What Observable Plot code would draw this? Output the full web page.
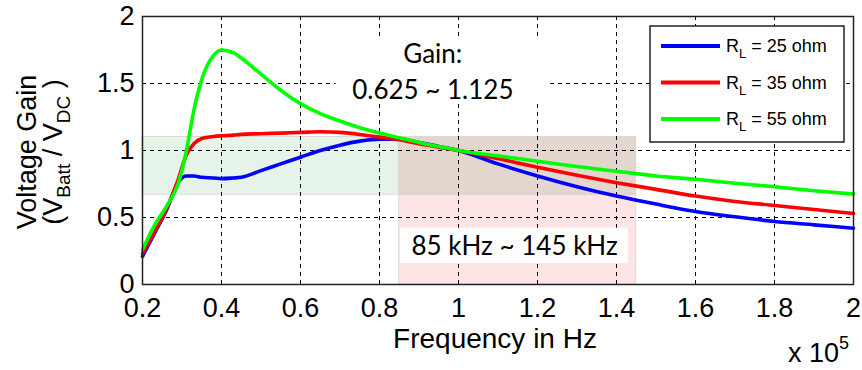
<!DOCTYPE html>
<html>
<head>
<meta charset="utf-8">
<script src="https://cdn.jsdelivr.net/npm/d3@7"></script>
<script src="https://cdn.jsdelivr.net/npm/@observablehq/plot@0.6"></script>
<style>
  html, body { margin: 0; padding: 0; background: #fff; }
  #chart { width: 862px; height: 370px; }
</style>
</head>
<body>
<div id="chart"></div>
<script>
// ---- data ----
const freq = [0.2, 0.23, 0.26, 0.29, 0.31, 0.33, 0.35, 0.38, 0.4, 0.43, 0.45, 0.5, 0.55, 0.6, 0.65, 0.7, 0.75, 0.8, 0.85, 0.9, 0.95, 1.0, 1.1, 1.2, 1.3, 1.4, 1.5, 1.6, 1.7, 1.8, 1.9, 2.0];
const gain25 = [0.21, 0.38, 0.55, 0.76, 0.81, 0.81, 0.80, 0.795, 0.79, 0.795, 0.80, 0.85, 0.90, 0.95, 1.00, 1.04, 1.07, 1.085, 1.085, 1.06, 1.03, 1.0, 0.90, 0.81, 0.73, 0.66, 0.60, 0.545, 0.505, 0.47, 0.445, 0.42];
const gain35 = [0.23, 0.39, 0.56, 0.78, 0.96, 1.05, 1.09, 1.105, 1.11, 1.115, 1.12, 1.125, 1.13, 1.135, 1.14, 1.135, 1.12, 1.10, 1.08, 1.05, 1.025, 1.0, 0.94, 0.875, 0.815, 0.76, 0.71, 0.66, 0.62, 0.59, 0.56, 0.53];
const gain55 = [0.26, 0.44, 0.58, 0.75, 0.98, 1.30, 1.53, 1.71, 1.75, 1.73, 1.69, 1.57, 1.45, 1.35, 1.275, 1.22, 1.17, 1.13, 1.095, 1.06, 1.03, 1.0, 0.96, 0.92, 0.88, 0.845, 0.81, 0.785, 0.755, 0.73, 0.70, 0.675];
const seriesNames = ["25 ohm", "35 ohm", "55 ohm"];
const seriesColors = ["#0000ff", "#ff0000", "#00ff00"];

const xTicks = [0.2, 0.4, 0.6, 0.8, 1.0, 1.2, 1.4, 1.6, 1.8, 2.0];
const xTickLabels = ["0.2", "0.4", "0.6", "0.8", "1", "1.2", "1.4", "1.6", "1.8", "2"];
const yTicks = [0, 0.5, 1, 1.5, 2];
const yTickLabels = ["0", "0.5", "1", "1.5", "2"];

const freqBand = [0.85, 1.45];   // 85 kHz ~ 145 kHz (x 10^5 Hz)
const gainBand = [0.67, 1.10];   // gain window as drawn
const gainText = ["Gain:", "0.625 ~ 1.125"];
const bandText = "85 kHz ~ 145 kHz";

// ---- build tables ----
const gains = [gain25, gain35, gain55];
const curves = seriesNames.flatMap((s, k) => freq.map((f, i) => ({series: s, f, g: gains[k][i]})));
const xLab = new Map(xTicks.map((t, i) => [t, xTickLabels[i]]));
const yLab = new Map(yTicks.map((t, i) => [t, yTickLabels[i]]));

const shades = [
  {x1: xTicks[0], x2: freqBand[0], y1: gainBand[0], y2: gainBand[1], fill: "#e6f3e8"},
  {x1: freqBand[0], x2: freqBand[1], y1: yTicks[0], y2: gainBand[0], fill: "#fde5e5"},
  {x1: freqBand[0], x2: freqBand[1], y1: gainBand[0], y2: gainBand[1], fill: "#e3d6ce"}
];
const whiteBoxes = [
  {x1: 0.69, x2: 1.225, y1: 1.35, y2: 1.84},
  {x1: 0.853, x2: 1.43, y1: 0.157, y2: 0.42}
];
const notes = [
  {x: 0.935, y: 1.715, text: gainText[0]},
  {x: 0.935, y: 1.445, text: gainText[1]},
  {x: 1.142, y: 0.285, text: bandText}
];

const font = "'Liberation Sans', Arial, Helvetica, sans-serif";

const svg = Plot.plot({
  width: 862,
  height: 370,
  marginLeft: 142,
  marginRight: 9,
  marginTop: 16,
  marginBottom: 86,
  x: {domain: [0.2, 2]},
  y: {domain: [0, 2]},
  color: {domain: seriesNames, range: seriesColors},
  style: {fontFamily: font, fontSize: "27px", color: "#000", background: "#fff", overflow: "visible"},
  marks: [
    Plot.rect(shades, {x1: "x1", x2: "x2", y1: "y1", y2: "y2", fill: "fill", stroke: "#d9d2cc", strokeWidth: 0.8}),
    Plot.ruleX(xTicks.slice(1, -1), {stroke: "#000", strokeWidth: 1, strokeDasharray: "4,4"}),
    Plot.ruleY(yTicks.slice(1, -1), {stroke: "#000", strokeWidth: 1, strokeDasharray: "4,4"}),
    Plot.rect(whiteBoxes, {x1: "x1", x2: "x2", y1: "y1", y2: "y2", fill: "#fff"}),
    Plot.text(notes, {x: "x", y: "y", text: "text", fontFamily: "Lato, 'Open Sans', sans-serif", fontSize: 26, fill: "#000"}),
    Plot.line(curves, {x: "f", y: "g", z: "series", stroke: "series", strokeWidth: 3.6, curve: "monotone-x"}),
    Plot.frame({stroke: "#222", strokeWidth: 1.5}),
    Plot.axisX(xTicks, {tickSize: 0, tickPadding: 13, tickFormat: d => xLab.get(d), label: null, fontSize: 27}),
    Plot.axisY(yTicks, {tickSize: 0, tickPadding: 8, tickFormat: d => yLab.get(d), label: null, fontSize: 27})
  ]
});

document.getElementById("chart").appendChild(svg);

// ---- axis titles, exponent, legend ----
const s = d3.select(svg);

// y-axis title (two lines, rotated)
const yt = s.append("g").attr("transform", "translate(0,152) rotate(-90)")
  .attr("font-family", font).attr("fill", "#000").attr("text-anchor", "middle");
yt.append("text").attr("x", 0).attr("y", 36).attr("font-size", 27).text("Voltage Gain");
const l2 = yt.append("text").attr("x", 0).attr("y", 62).attr("font-size", 27);
l2.append("tspan").text("(V");
l2.append("tspan").attr("font-size", 19).attr("dy", 8).text("Batt");
l2.append("tspan").attr("dy", -8).text(" / V");
l2.append("tspan").attr("font-size", 19).attr("dy", 8).text("DC");
l2.append("tspan").attr("dy", -8).text(" )");

// x-axis title
s.append("text").attr("x", 495).attr("y", 348).attr("text-anchor", "middle")
  .attr("font-family", font).attr("font-size", 28).attr("fill", "#000").text("Frequency in Hz");

// exponent
const ex = s.append("text").attr("x", 788).attr("y", 362).attr("text-anchor", "start")
  .attr("font-family", font).attr("font-size", 27).attr("fill", "#000");
ex.append("tspan").text("x 10");
ex.append("tspan").attr("font-size", 18).attr("dy", -13).text("5");

// legend
const lg = s.append("g").attr("font-family", font).attr("font-size", 18).attr("fill", "#000")
  .attr("text-anchor", "start");
lg.append("rect").attr("x", 650).attr("y", 26).attr("width", 194).attr("height", 116)
  .attr("fill", "#fff").attr("stroke", "#222").attr("stroke-width", 1.5);
seriesNames.forEach((name, i) => {
  const yy = 46 + i * 36.5;
  lg.append("line").attr("x1", 661).attr("x2", 720).attr("y1", yy).attr("y2", yy)
    .attr("stroke", seriesColors[i]).attr("stroke-width", 4);
  const t = lg.append("text").attr("x", 726).attr("y", yy + 6);
  t.append("tspan").text("R");
  t.append("tspan").attr("font-size", 13).attr("dy", 6).text("L");
  t.append("tspan").attr("dy", -6).text(" = " + name);
});
</script>
</body>
</html>
